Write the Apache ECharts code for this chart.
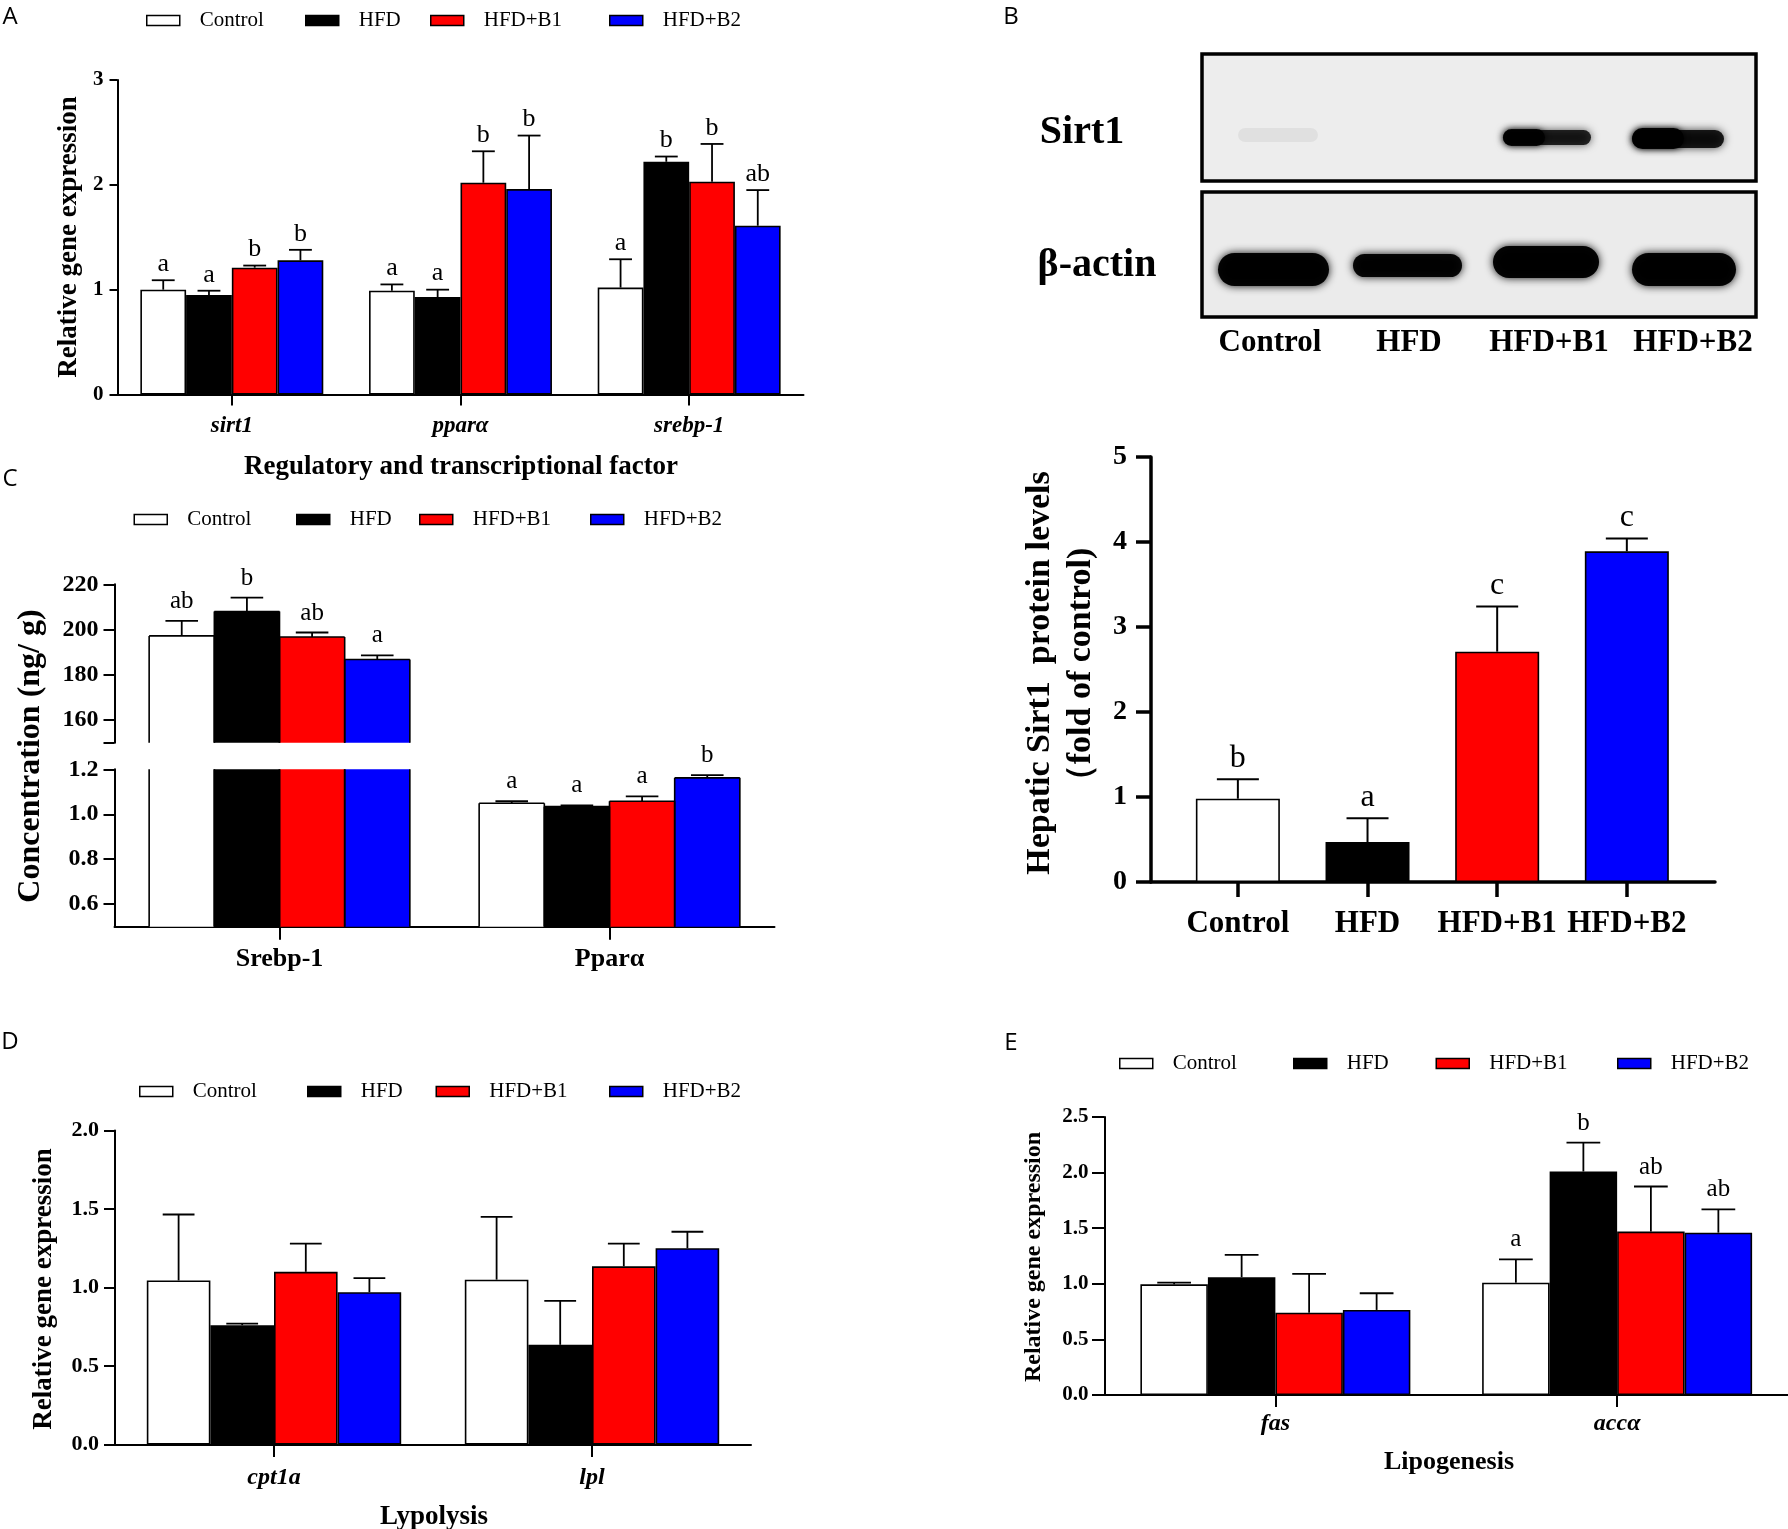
<!DOCTYPE html>
<html><head><meta charset="utf-8">
<script src="https://cdn.jsdelivr.net/npm/echarts@6/dist/echarts.min.js"></script>
<style>html,body{margin:0;padding:0;background:#fff}#c{width:1788px;height:1529px}</style>
</head><body><div id="c"></div>
<script>
// ---------- DATA ----------
const groups = ['Control', 'HFD', 'HFD+B1', 'HFD+B2'];
const fills = ['#ffffff', '#000000', '#ff0000', '#0000ff'];

// Panel A: relative gene expression (rows = groups, cols = genes)
const aGenes = ['sirt1', 'pparα', 'srebp-1'];
const aMean = [[1.00, 0.99, 1.02], [0.95, 0.93, 2.22], [1.21, 2.02, 2.03], [1.28, 1.96, 1.61]];
const aSD = [[0.09, 0.06, 0.27], [0.04, 0.07, 0.05], [0.02, 0.30, 0.36], [0.10, 0.51, 0.34]];
const aLetters = [['a', 'a', 'a'], ['a', 'a', 'b'], ['b', 'b', 'b'], ['b', 'b', 'ab']];

// Panel B: hepatic Sirt1 protein (fold of control)
const bMean = [0.98, 0.47, 2.71, 3.89];
const bSD = [0.23, 0.28, 0.53, 0.15];
const bLetters = ['b', 'a', 'c', 'c'];

// Panel C: concentration (ng/g)
const cGenes = ['Srebp-1', 'Pparα'];
const cMean = [[197.2, 1.049], [208.0, 1.034], [196.7, 1.058], [186.8, 1.162]];
const cSD = [[6.6, 0.009], [6.1, 0.006], [2.0, 0.022], [1.8, 0.012]];
const cLetters = [['ab', 'a'], ['b', 'a'], ['ab', 'a'], ['a', 'b']];
const cUpperTicks = [160, 180, 200, 220];
const cLowerTicks = [0.6, 0.8, 1.0, 1.2];

// Panel D: lypolysis
const dGenes = ['cpt1a', 'lpl'];
const dMean = [[1.045, 1.05], [0.76, 0.635], [1.10, 1.135], [0.97, 1.25]];
const dSD = [[0.42, 0.40], [0.01, 0.28], [0.18, 0.145], [0.09, 0.105]];

// Panel E: lipogenesis
const eGenes = ['fas', 'accα'];
const eMean = [[0.995, 1.01], [1.06, 2.01], [0.74, 1.47], [0.765, 1.46]];
const eSD = [[0.015, 0.21], [0.20, 0.26], [0.35, 0.405], [0.15, 0.21]];
const eLetters = [['', 'a'], ['', 'b'], ['', 'ab'], ['', 'ab']];

// ---------- HELPERS ----------
const SERIF = '"Liberation Serif","Times New Roman",serif';
const BLACK = '#000';

function errItems(mean, sd, letters, cats) {
  const items = [], labs = [];
  cats.forEach(c => {
    for (let g = 0; g < mean.length; g++) {
      items.push([c, g, mean[g][c], mean[g][c] + sd[g][c]]);
      labs.push(letters ? letters[g][c] : '');
    }
  });
  return { items, labs };
}

function letterText(text, x, y, size) {
  return { type: 'text', style: { text: text, x: x, y: y, textAlign: 'center', align: 'center',
    textVerticalAlign: 'bottom', verticalAlign: 'bottom', font: size + 'px ' + SERIF, fill: BLACK } };
}
function seg(x1, y1, x2, y2, lw) {
  return { type: 'line', shape: { x1: x1, y1: y1, x2: x2, y2: y2 }, style: { stroke: BLACK, lineWidth: lw } };
}

function errRender(labs, gapFrac, fontSize, lift, lw) {
  return function (params, api) {
    const c = api.value(0), g = api.value(1), m = api.value(2), t = api.value(3);
    const band = api.size([1, 0])[0];
    const bw = band * (1 - gapFrac) / 4;
    const p0 = api.coord([c, m]), p1 = api.coord([c, t]);
    const x = p0[0] + (g - 1.5) * bw;
    const half = bw / 4;
    return { type: 'group', children: [
      seg(x, p0[1], x, p1[1], lw), seg(x - half, p1[1], x + half, p1[1], lw),
      letterText(labs[params.dataIndex], x, p1[1] - lift, fontSize)
    ] };
  };
}

// Broken-axis panel: bar outlines drawn only on real (unclipped) edges, plus error bars & letters
function brokenRender(labs, gapFrac, fontSize, lift, lw) {
  return function (params, api) {
    const cs = params.coordSys;
    const top = cs.y, bottom = cs.y + cs.height;
    const c = api.value(0), g = api.value(1), m = api.value(2), t = api.value(3);
    const band = api.size([1, 0])[0];
    const bw = band * (1 - gapFrac) / 4;
    const pm = api.coord([c, m]), pt = api.coord([c, t]);
    const x = pm[0] + (g - 1.5) * bw;
    const xl = x - bw / 2, xr = x + bw / 2;
    const children = [];
    if (pm[1] < bottom) {
      const yTop = Math.max(pm[1], top);
      children.push(seg(xl, yTop, xl, bottom, 1.6), seg(xr, yTop, xr, bottom, 1.6));
      if (pm[1] >= top) {
        children.push(seg(xl, pm[1], xr, pm[1], 1.6));
        children.push(seg(x, pm[1], x, pt[1], lw), seg(x - bw / 4, pt[1], x + bw / 4, pt[1], lw));
        children.push(letterText(labs[params.dataIndex], x, pt[1] - lift, fontSize));
      }
    }
    return { type: 'group', children: children };
  };
}

function barSeries(mean, xi, yi, gap, border) {
  return mean.map((row, g) => ({
    type: 'bar', name: groups[g], xAxisIndex: xi, yAxisIndex: yi, data: row,
    barGap: '0%', barCategoryGap: gap, silent: true,
    itemStyle: { color: fills[g], borderColor: BLACK, borderWidth: border }
  }));
}

function legendRow(xs, cy) {
  return groups.map((name, g) => ({
    left: xs[g], top: cy - 11, padding: 0, itemWidth: 33, itemHeight: 10, selectedMode: false,
    icon: 'rect',
    data: [{ name: name, itemStyle: { color: fills[g], borderColor: BLACK, borderWidth: 1.5 } }],
    textStyle: { fontFamily: SERIF, fontSize: 21, color: BLACK, padding: [0, 0, 0, 15] }
  }));
}

function txt(x, y, text, font, rot, lineHeight) {
  const style = { text: text, font: font, fill: BLACK, textAlign: 'center', align: 'center',
    textVerticalAlign: 'middle', verticalAlign: 'middle' };
  if (lineHeight) style.lineHeight = lineHeight;
  return { type: 'text', x: x, y: y, rotation: rot || 0, silent: true, style: style };
}

function axisStyle(w) { return { show: true, onZero: false, lineStyle: { color: BLACK, width: w } }; }
function tickStyle(len, w, extra) { return Object.assign({ show: true, length: len, lineStyle: { color: BLACK, width: w } }, extra || {}); }
function lab(size, margin, extra) {
  return Object.assign({ color: BLACK, fontFamily: SERIF, fontSize: size, fontWeight: 'bold', margin: margin }, extra || {});
}

// ---------- GRIDS ----------
const grid = [
  { left: 117.5, top: 80, width: 686, height: 314.5 },     // A
  { left: 1151, top: 457, width: 564, height: 425 },       // B
  { left: 114.5, top: 584.3, width: 660, height: 158.4 },  // C upper
  { left: 114.5, top: 769.3, width: 660, height: 157.4 },  // C lower
  { left: 115, top: 1130.5, width: 636, height: 314 },     // D
  { left: 1104.5, top: 1117, width: 685, height: 278 }     // E
];

const xAxis = [
  { gridIndex: 0, type: 'category', data: aGenes, axisLine: axisStyle(2), axisTick: tickStyle(11, 2, { alignWithLabel: true }),
    axisLabel: lab(23, 20, { fontStyle: 'italic' }) },
  { gridIndex: 1, type: 'value', min: 0.33, max: 4.68, splitLine: { show: false }, axisLine: axisStyle(3.5),
    axisTick: tickStyle(15, 3.5, { customValues: groups.map((_, i) => i + 1) }),
    axisLabel: lab(31, 26, { customValues: groups.map((_, i) => i + 1), formatter: v => groups[Math.round(v) - 1] || '' }) },
  { gridIndex: 2, type: 'category', data: cGenes, show: false },
  { gridIndex: 3, type: 'category', data: cGenes, axisLine: axisStyle(2), axisTick: tickStyle(13, 2, { alignWithLabel: true }),
    axisLabel: lab(26, 20) },
  { gridIndex: 4, type: 'category', data: dGenes, axisLine: axisStyle(2), axisTick: tickStyle(12.5, 2, { alignWithLabel: true }),
    axisLabel: lab(24, 21, { fontStyle: 'italic' }) },
  { gridIndex: 5, type: 'category', data: eGenes, axisLine: axisStyle(2), axisTick: tickStyle(12, 2, { alignWithLabel: true }),
    axisLabel: lab(24, 17, { fontStyle: 'italic' }) }
];

const yAxis = [
  { gridIndex: 0, type: 'value', min: 0, max: 3, interval: 1, splitLine: { show: false }, axisLine: axisStyle(2),
    axisTick: tickStyle(8, 2), axisLabel: lab(21, 14) },
  { gridIndex: 1, type: 'value', min: 0, max: 5, interval: 1, splitLine: { show: false }, axisLine: axisStyle(3.5),
    axisTick: tickStyle(15, 3.5), axisLabel: lab(28, 24) },
  { gridIndex: 2, type: 'value', min: 150, max: 220, splitLine: { show: false }, axisLine: axisStyle(2),
    axisTick: tickStyle(11, 2, { customValues: [150].concat(cUpperTicks) }),
    axisLabel: lab(24, 16, { customValues: cUpperTicks }) },
  { gridIndex: 3, type: 'value', min: 0.5, max: 1.2, splitLine: { show: false }, axisLine: axisStyle(2),
    axisTick: tickStyle(11, 2, { customValues: cLowerTicks }),
    axisLabel: lab(24, 16, { customValues: cLowerTicks, formatter: v => v.toFixed(1) }) },
  { gridIndex: 4, type: 'value', min: 0, max: 2, interval: 0.5, splitLine: { show: false }, axisLine: axisStyle(2),
    axisTick: tickStyle(11, 2), axisLabel: lab(22, 16, { formatter: v => v.toFixed(1) }) },
  { gridIndex: 5, type: 'value', min: 0, max: 2.5, interval: 0.5, splitLine: { show: false }, axisLine: axisStyle(2),
    axisTick: tickStyle(12.5, 2), axisLabel: lab(21, 16, { formatter: v => v.toFixed(1) }) }
];

// ---------- SERIES ----------
const series = [];
// A
series.push(...barSeries(aMean, 0, 0, '20%', 1.6));
const aErr = errItems(aMean, aSD, aLetters, [0, 1, 2]);
series.push({ type: 'custom', xAxisIndex: 0, yAxisIndex: 0, data: aErr.items, encode: { x: 0, y: [2, 3] }, z: 5, silent: true,
  renderItem: errRender(aErr.labs, 0.2, 26, 3, 1.8) });

// B
series.push({ type: 'bar', name: 'Sirt1', xAxisIndex: 1, yAxisIndex: 1, barWidth: 84, silent: true,
  data: bMean.map((v, i) => ({ value: [i + 1, v], itemStyle: { color: fills[i] } })),
  itemStyle: { borderColor: BLACK, borderWidth: 1.6 } });
series.push({ type: 'custom', xAxisIndex: 1, yAxisIndex: 1, z: 5, silent: true, encode: { x: 0, y: [1, 2] },
  data: bMean.map((v, i) => [i + 1, v, v + bSD[i]]),
  renderItem: function (params, api) {
    const p0 = api.coord([api.value(0), api.value(1)]), p1 = api.coord([api.value(0), api.value(2)]);
    const x = p0[0], half = 21;
    return { type: 'group', children: [
      seg(x, p0[1], x, p1[1], 2), seg(x - half, p1[1], x + half, p1[1], 2),
      letterText(bLetters[params.dataIndex], x, p1[1] - 5, 32)
    ] };
  } });

// C (broken axis: fills from bar series, outlines/error bars from custom series)
series.push(...barSeries(cMean, 2, 2, '21%', 0));
series.push(...barSeries(cMean, 3, 3, '21%', 0));
const cErr = errItems(cMean, cSD, cLetters, [0, 1]);
series.push({ type: 'custom', xAxisIndex: 2, yAxisIndex: 2, data: cErr.items, encode: { x: 0, y: [2, 3] }, z: 5, silent: true,
  renderItem: brokenRender(cErr.labs, 0.21, 25, 7, 1.8) });
series.push({ type: 'custom', xAxisIndex: 3, yAxisIndex: 3, data: cErr.items, encode: { x: 0, y: [2, 3] }, z: 5, silent: true,
  renderItem: brokenRender(cErr.labs, 0.21, 25, 7, 1.8) });

// D
series.push(...barSeries(dMean, 4, 4, '20%', 1.6));
const dErr = errItems(dMean, dSD, null, [0, 1]);
series.push({ type: 'custom', xAxisIndex: 4, yAxisIndex: 4, data: dErr.items, encode: { x: 0, y: [2, 3] }, z: 5, silent: true,
  renderItem: errRender(dErr.labs, 0.2, 25, 7, 1.8) });

// E
series.push(...barSeries(eMean, 5, 5, '21%', 1.6));
const eErr = errItems(eMean, eSD, eLetters, [0, 1]);
series.push({ type: 'custom', xAxisIndex: 5, yAxisIndex: 5, data: eErr.items, encode: { x: 0, y: [2, 3] }, z: 5, silent: true,
  renderItem: errRender(eErr.labs, 0.21, 25, 7, 1.8) });

// ---------- LEGENDS ----------
const legend = [].concat(
  legendRow([146, 305, 430, 609], 21),
  legendRow([133.5, 296, 419, 590], 520),
  legendRow([139, 307, 435.5, 609], 1092),
  legendRow([1119, 1293, 1435.5, 1617], 1064)
);

// ---------- GRAPHIC (titles, western blot) ----------
const SANS = '"Open Sans","DejaVu Sans",sans-serif';
const R90 = Math.PI / 2;
function blot(x, y, w, h, alpha, blur) {
  return { type: 'rect', silent: true, shape: { x: x, y: y, width: w, height: h, r: h / 2 },
    style: { fill: 'rgba(0,0,0,' + alpha + ')', shadowBlur: blur, shadowColor: 'rgba(0,0,0,' + alpha + ')' } };
}
const graphic = [
  txt(10, 17, 'A', '24px ' + SANS),
  txt(1011, 17, 'B', '24px ' + SANS),
  txt(10, 479, 'C', '24px ' + SANS),
  txt(10, 1042, 'D', '24px ' + SANS),
  txt(1011, 1043, 'E', '24px ' + SANS),
  txt(69, 237, 'Relative gene expression', 'bold 27px ' + SERIF, R90),
  txt(461, 467.5, 'Regulatory and transcriptional factor', 'bold 27px ' + SERIF),
  txt(1061, 673, 'Hepatic Sirt1  protein levels\n（fold of control)', 'bold 34px ' + SERIF, R90, 41),
  txt(31, 756, 'Concentration (ng/ g)', 'bold 32px ' + SERIF, R90),
  txt(44, 1289, 'Relative gene expression', 'bold 27px ' + SERIF, R90),
  txt(434, 1517, 'Lypolysis', 'bold 27px ' + SERIF),
  txt(1034, 1257, 'Relative gene expression', 'bold 24px ' + SERIF, R90),
  txt(1449, 1462, 'Lipogenesis', 'bold 26px ' + SERIF),
  // western blot frames and bands (picture, not data)
  { type: 'rect', silent: true, shape: { x: 1202, y: 54, width: 554, height: 127 }, style: { fill: '#ededed', stroke: BLACK, lineWidth: 3.5 } },
  { type: 'rect', silent: true, shape: { x: 1202, y: 192, width: 554, height: 125 }, style: { fill: '#ebebeb', stroke: BLACK, lineWidth: 3.5 } },
  blot(1238, 128, 80, 14, 0.05, 16),
  blot(1503, 130, 88, 15, 0.8, 8),
  blot(1503, 129, 42, 17, 0.9, 6),
  blot(1632, 130, 92, 18, 0.85, 8),
  blot(1632, 128, 52, 21, 0.95, 6),
  blot(1218, 253, 111, 33, 0.97, 8),
  blot(1353, 254, 109, 23, 0.95, 8),
  blot(1493, 246, 106, 32, 0.97, 8),
  blot(1632, 253, 104, 33, 0.97, 8),
  txt(1082, 133, 'Sirt1', 'bold 40px ' + SERIF),
  txt(1097, 266, 'β-actin', 'bold 40px ' + SERIF),
  txt(1270, 343, 'Control', 'bold 31px ' + SERIF),
  txt(1409, 343, 'HFD', 'bold 31px ' + SERIF),
  txt(1549, 343, 'HFD+B1', 'bold 31px ' + SERIF),
  txt(1693, 343, 'HFD+B2', 'bold 31px ' + SERIF)
];

const chart = echarts.init(document.getElementById('c'), null, { renderer: 'canvas' });
chart.setOption({
  backgroundColor: '#fff', animation: false,
  grid: grid, xAxis: xAxis, yAxis: yAxis, series: series, legend: legend, graphic: graphic
});
</script></body></html>
